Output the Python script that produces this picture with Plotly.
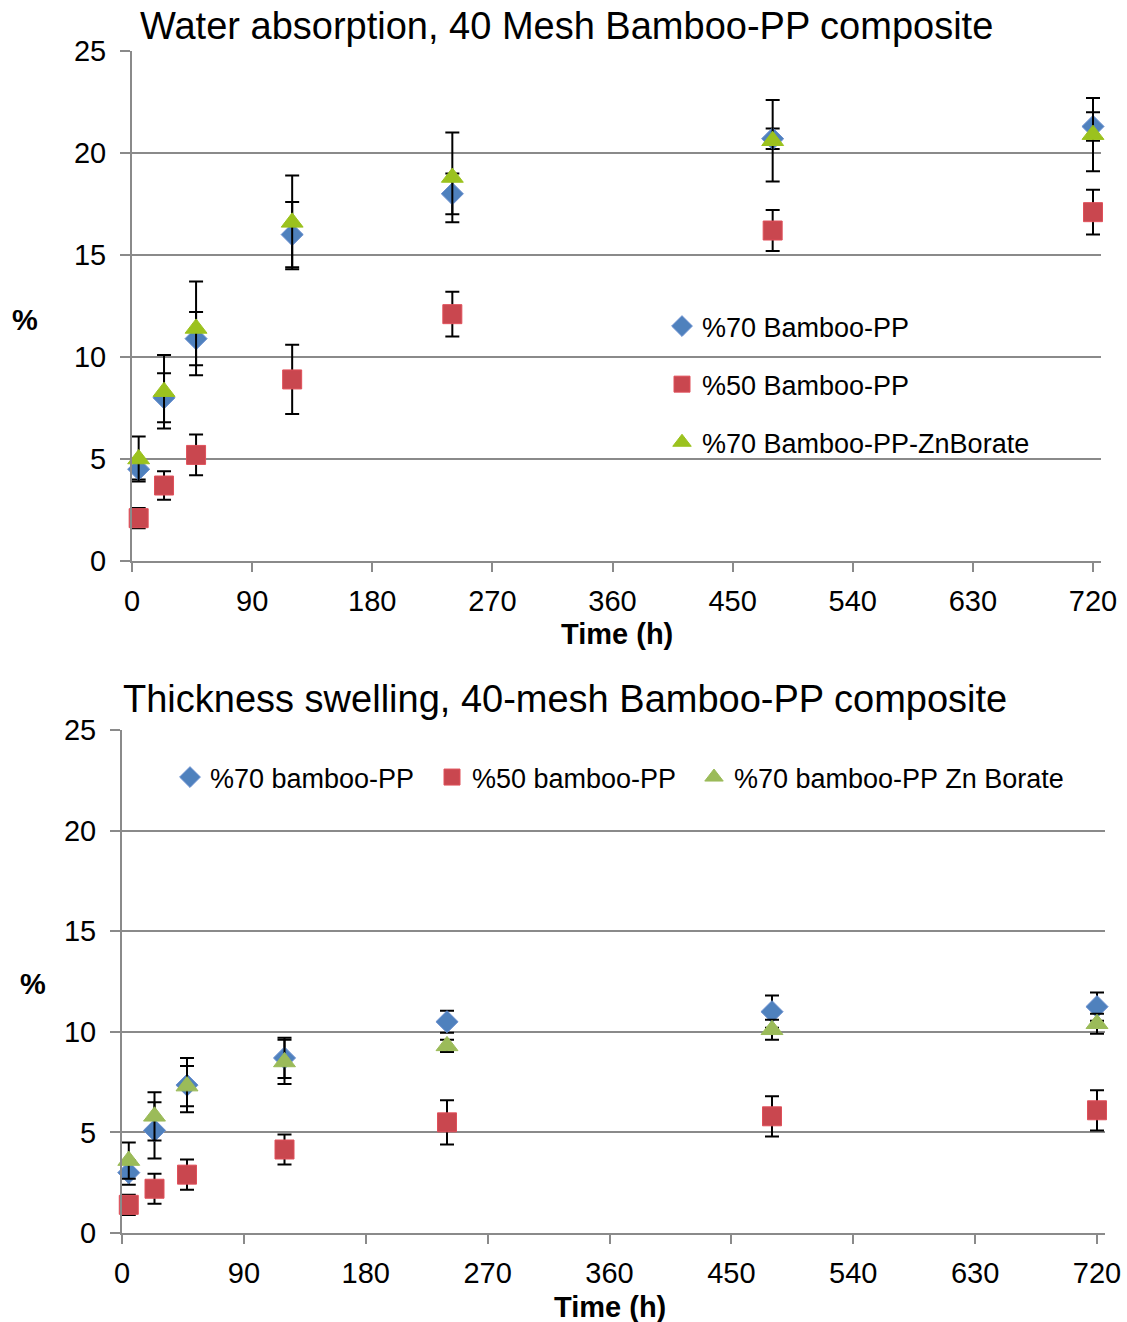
import plotly.graph_objects as go

W, H = 1127, 1322

time_h = [5, 24, 48, 120, 240, 480, 720]

# Water absorption (%)
wa_70 = [4.5, 8.0, 10.9, 16.0, 18.0, 20.7, 21.3]
wa_70_err = [0.5, 1.2, 1.3, 1.6, 1.0, 0.5, 0.7]
wa_50 = [2.1, 3.7, 5.2, 8.9, 12.1, 16.2, 17.1]
wa_50_err = [0.5, 0.7, 1.0, 1.7, 1.1, 1.0, 1.1]
wa_zn = [5.0, 8.3, 11.4, 16.6, 18.8, 20.6, 20.9]
wa_zn_err = [1.1, 1.8, 2.3, 2.3, 2.2, 2.0, 1.8]

# Thickness swelling (%)
ts_70 = [3.0, 5.1, 7.35, 8.7, 10.5, 11.0, 11.25]
ts_70_err = [0.6, 1.4, 1.35, 1.0, 0.55, 0.8, 0.7]
ts_50 = [1.4, 2.2, 2.9, 4.15, 5.5, 5.8, 6.1]
ts_50_err = [0.5, 0.75, 0.75, 0.75, 1.1, 1.0, 1.0]
ts_zn = [3.6, 5.8, 7.3, 8.5, 9.3, 10.1, 10.4]
ts_zn_err = [0.9, 1.2, 1.0, 1.1, 0.3, 0.5, 0.5]

top_names = ["%70 Bamboo-PP", "%50 Bamboo-PP", "%70 Bamboo-PP-ZnBorate"]
bot_names = ["%70 bamboo-PP", "%50 bamboo-PP", "%70 bamboo-PP Zn Borate"]

x_ticks = [0, 90, 180, 270, 360, 450, 540, 630, 720]
y_ticks = [0, 5, 10, 15, 20, 25]

FONT = "Liberation Sans, Arial, sans-serif"
BLUE = "#4F81BD"
RED = "#C9474F"
GREEN_TOP = "#9BC21E"
GREEN_BOT = "#9BBB59"
GRID = "#8A8A8A"

XMAX = 726  # a little room so the end error caps are not clipped

fig = go.Figure()

def err(vals):
    return dict(type="data", array=vals, visible=True, color="black", thickness=2, width=7)

def add_set(xa, ya, legends, names, series, green):
    (v70, e70), (v50, e50), (vzn, ezn) = series
    fig.add_trace(go.Scatter(x=time_h, y=v70, error_y=err(e70), mode="markers", name=names[0],
                             marker=dict(symbol="diamond", size=17, color=BLUE, line=dict(color="#6A8FD0", width=1)),
                             xaxis=xa, yaxis=ya, legend=legends[0], legendgroup=xa + "a", cliponaxis=False))
    fig.add_trace(go.Scatter(x=time_h, y=v50, error_y=err(e50), mode="markers", name=names[1],
                             marker=dict(symbol="square", size=19, color=RED, line=dict(color="#E0505A", width=1)),
                             xaxis=xa, yaxis=ya, legend=legends[1], legendgroup=xa + "b", cliponaxis=False))
    fig.add_trace(go.Scatter(x=time_h, y=vzn, error_y=err(ezn), mode="markers", name=names[2],
                             marker=dict(symbol="triangle-up", size=19, color=green, line=dict(color=green, width=1)),
                             xaxis=xa, yaxis=ya, legend=legends[2], legendgroup=xa + "c", cliponaxis=False))

add_set("x", "y", ["legend"] * 3, top_names,
        [(wa_70, wa_70_err), (wa_50, wa_50_err), (wa_zn, wa_zn_err)], GREEN_TOP)
add_set("x2", "y2", ["legend2", "legend2", "legend3"], bot_names,
        [(ts_70, ts_70_err), (ts_50, ts_50_err), (ts_zn, ts_zn_err)], GREEN_BOT)

def xax(domain, anchor):
    return dict(domain=domain, anchor=anchor, range=[0, XMAX], tickvals=x_ticks,
                showgrid=False, zeroline=False, showline=True, linecolor=GRID, linewidth=2,
                ticks="outside", ticklen=9, tickwidth=2, tickcolor=GRID, automargin=False,
                tickfont=dict(family=FONT, size=29, color="black"), ticklabelstandoff=4)

def yax(domain, anchor):
    return dict(domain=domain, anchor=anchor, range=[0, 25], tickvals=y_ticks,
                showgrid=True, gridcolor=GRID, gridwidth=2, zeroline=False,
                showline=True, linecolor=GRID, linewidth=2, automargin=False,
                ticks="outside", ticklen=10, tickwidth=2, tickcolor=GRID,
                tickfont=dict(family=FONT, size=29, color="black"), ticklabelstandoff=8)

top_x0, top_x1 = 132, 132 + (1093 - 132) * XMAX / 720
bot_x0, bot_x1 = 122, 122 + (1097 - 122) * XMAX / 720

LEGFONT = dict(family=FONT, size=27, color="black")

fig.update_layout(
    width=W, height=H, margin=dict(l=0, r=0, t=0, b=0, autoexpand=False),
    paper_bgcolor="white", plot_bgcolor="white",
    font=dict(family=FONT, color="black"),
    xaxis=xax([top_x0 / W, top_x1 / W], "y"),
    yaxis=yax([(H - 561) / H, (H - 51) / H], "x"),
    xaxis2=xax([bot_x0 / W, bot_x1 / W], "y2"),
    yaxis2=yax([(H - 1233) / H, (H - 730) / H], "x2"),
    legend=dict(x=662 / W, y=(H - 302) / H, xanchor="left", yanchor="top",
                orientation="v", font=LEGFONT,
                bgcolor="rgba(0,0,0,0)", tracegroupgap=20, itemsizing="trace"),
    legend2=dict(x=170 / W, y=(H - 753) / H, xanchor="left", yanchor="top",
                 orientation="h", font=LEGFONT, entrywidth=217, entrywidthmode="pixels",
                 bgcolor="rgba(0,0,0,0)", itemsizing="trace"),
    legend3=dict(x=694 / W, y=(H - 753) / H, xanchor="left", yanchor="top",
                 orientation="h", font=LEGFONT,
                 bgcolor="rgba(0,0,0,0)", itemsizing="trace"),
    showlegend=True,
)

ann = [
    dict(text="Water absorption, 40 Mesh Bamboo-PP composite", x=566 / W, y=(H - 26) / H, size=38),
    dict(text="Thickness swelling, 40-mesh Bamboo-PP composite", x=565 / W, y=(H - 699) / H, size=38),
    dict(text="<b>%</b>", x=25 / W, y=(H - 320) / H, size=29),
    dict(text="<b>%</b>", x=33 / W, y=(H - 984) / H, size=29),
    dict(text="<b>Time (h)</b>", x=617 / W, y=(H - 634) / H, size=29),
    dict(text="<b>Time (h)</b>", x=610 / W, y=(H - 1307) / H, size=29),
]
for a in ann:
    fig.add_annotation(xref="paper", yref="paper", showarrow=False, xanchor="center",
                       yanchor="middle", text=a["text"], x=a["x"], y=a["y"],
                       font=dict(family=FONT, color="black", size=a["size"]))

fig.write_html("out.html")
